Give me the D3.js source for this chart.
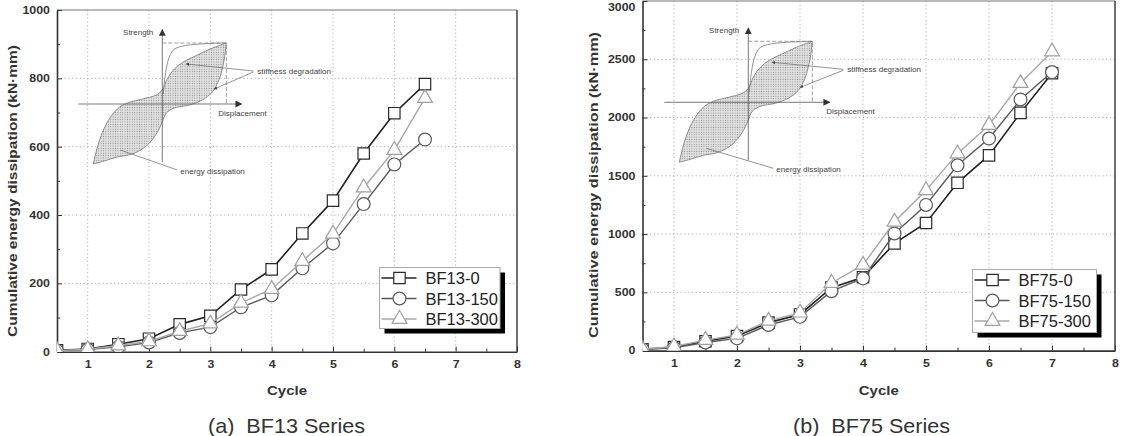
<!DOCTYPE html>
<html><head><meta charset="utf-8">
<script src="https://cdn.jsdelivr.net/npm/d3@7"></script>
<style>body{margin:0;background:#fff;} svg{display:block;} text{font-family:"Liberation Sans",Arial,sans-serif;}</style>
</head><body>
<svg id="c" width="1131" height="436"></svg>
<script>
// ---------------- data ----------------
const cycles13 = [0.5,1,1.5,2,2.5,3,3.5,4,4.5,5,5.5,6,6.5];
const bf13_0   = [4,8,22,38,80,105,182,241,346,442,580,698,783];
const bf13_150 = [3,6,14,27,55,72,130,165,244,317,432,548,621];
const bf13_300 = [3,7,18,30,60,82,143,183,265,345,480,590,742];
const cycles75 = [0.5,1,1.5,2,2.5,3,3.5,4,4.5,5,5.5,6,6.5,7];
const bf75_0   = [12,30,80,125,240,310,540,630,920,1095,1440,1675,2040,2380];
const bf75_150 = [10,25,70,105,220,290,510,620,1005,1250,1590,1820,2155,2390];
const bf75_300 = [12,35,90,135,255,325,580,735,1105,1375,1690,1935,2295,2565];
const xTickValues = [1,2,3,4,5,6,7,8];
const xMinorTicks = [1.5,2.5,3.5,4.5,5.5,6.5,7.5];
const yTicks13 = [0,200,400,600,800,1000];
const yMinor13 = [100,300,500,700,900];
const yTicks75 = [0,500,1000,1500,2000,2500,3000];
const yMinor75 = [250,750,1250,1750,2250,2750];
const names13 = ["BF13-0","BF13-150","BF13-300"];
const names75 = ["BF75-0","BF75-150","BF75-300"];
const captions = ["(a)  BF13 Series","(b)  BF75 Series"];
const xTitle = "Cycle";
const yTitle = "Cumulative energy dissipation (kN\u00B7mm)";
const insetTexts = ["Strength","Displacement","stiffness degradation","energy dissipation"];

// ---------------- styles ----------------
const seriesStyle = [
  {line:"#222", stroke:"#2a2a2a", w:1.6, sym:d3.symbolSquare, size:130},
  {line:"#5a5a5a", stroke:"#5a5a5a", w:1.4, sym:d3.symbolCircle, size:130},
  {line:"#a8a8a8", stroke:"#a0a0a0", w:1.4, sym:d3.symbolTriangle, size:95}
];

const svg = d3.select("#c");
const defs = svg.append("defs");
const pat = defs.append("pattern").attr("id","dots").attr("width",2.4).attr("height",2.4).attr("patternUnits","userSpaceOnUse");
pat.append("rect").attr("width",2.4).attr("height",2.4).attr("fill","#e2e2e2");
pat.append("circle").attr("cx",1.2).attr("cy",1.2).attr("r",0.6).attr("fill","#8c8c8c");
defs.append("marker").attr("id","arr").attr("viewBox","0 0 6 6").attr("refX",5).attr("refY",3)
  .attr("markerWidth",5).attr("markerHeight",5).attr("orient","auto")
  .append("path").attr("d","M0,0L6,3L0,6Z").attr("fill","#444");
defs.append("marker").attr("id","arrBig").attr("viewBox","0 0 6 6").attr("refX",5).attr("refY",3)
  .attr("markerWidth",7).attr("markerHeight",7).attr("markerUnits","userSpaceOnUse").attr("orient","auto")
  .append("path").attr("d","M0,0L6,3L0,6Z").attr("fill","#333");

// inset loop shape (local coordinates relative to the inset origin)
const loopUpper = [[-69,60],[-64,40],[-56,20],[-45,5],[-35,-1],[-20,-5],[-6,-9],[0,-14],[5,-25],[12,-35],[21,-42],[33,-48],[48,-55],[64,-61]];
const loopLower = [[64,-61],[62,-45],[57,-25],[50,-12],[40,-4],[27,1],[12,4],[4,9],[0,18],[-6,30],[-16,42],[-30,50],[-45,53],[-58,57],[-69,60]];
const envelope = [[1,-10],[2.7,-27],[6,-44],[11,-54],[19.4,-57.7],[38,-60],[64,-61]];

function drawInset(g, c) {
  const ig = g.append("g").attr("transform",`translate(${c.ox},${c.oy})`);
  const ln = d3.line().curve(d3.curveCatmullRom);
  const d = ln(loopUpper) + ln(loopLower).replace(/^M/,"L") + "Z";
  ig.append("path").attr("d",d).attr("fill","url(#dots)").attr("stroke","#777").attr("stroke-width",0.8);
  ig.append("path").attr("d",ln(envelope)).attr("fill","none").attr("stroke","#777").attr("stroke-width",0.8);
  ig.append("line").attr("x1",0).attr("y1",58).attr("x2",0).attr("y2",-74).attr("stroke","#555").attr("stroke-width",0.8).attr("marker-end","url(#arrBig)");
  ig.append("line").attr("x1",-84).attr("y1",0).attr("x2",c.hx).attr("y2",0).attr("stroke","#555").attr("stroke-width",0.8).attr("marker-end","url(#arrBig)");
  ig.append("path").attr("d","M0,-61L64,-61L64,0").attr("fill","none").attr("stroke","#777").attr("stroke-width",0.7).attr("stroke-dasharray","4,2");
  ig.append("line").attr("x1",c.stiffDx-4).attr("y1",-33).attr("x2",24).attr("y2",-40).attr("stroke","#666").attr("stroke-width",0.7).attr("marker-end","url(#arr)");
  ig.append("line").attr("x1",c.stiffDx-4).attr("y1",-32).attr("x2",52).attr("y2",-15).attr("stroke","#666").attr("stroke-width",0.7).attr("marker-end","url(#arr)");
  ig.append("line").attr("x1",-42).attr("y1",46).attr("x2",c.energyDx-3).attr("y2",66).attr("stroke","#666").attr("stroke-width",0.7);
  const tf = t => ig.append("text").attr("font-family","'Liberation Serif',serif").attr("font-size",8).attr("fill","#444").text(t);
  tf(insetTexts[0]).attr("x",-9).attr("y",-69).attr("text-anchor","end");
  tf(insetTexts[1]).attr("x",c.dispDx).attr("y",12);
  tf(insetTexts[2]).attr("x",c.stiffDx).attr("y",-30);
  tf(insetTexts[3]).attr("x",c.energyDx).attr("y",70);
}

function drawChart(cfg, idx) {
  const x = d3.scaleLinear().domain([0.5,8]).range([cfg.L, cfg.R]);
  const y = d3.scaleLinear().domain([0, cfg.yTicks[cfg.yTicks.length-1]]).range([cfg.B, cfg.T]);
  const g = svg.append("g");
  const cid = "clip"+idx;
  defs.append("clipPath").attr("id",cid).append("rect")
    .attr("x",cfg.L).attr("y",cfg.T-10).attr("width",cfg.R-cfg.L).attr("height",cfg.B-cfg.T+10);

  g.append("g").selectAll("line").data(xTickValues.filter(d=>d<8)).join("line")
    .attr("x1",d=>x(d)).attr("x2",d=>x(d)).attr("y1",cfg.T).attr("y2",cfg.B)
    .attr("stroke","#9c9c9c").attr("stroke-width",0.8).attr("stroke-dasharray","1.2,2.6");
  g.append("g").selectAll("line").data(cfg.yTicks.filter((d,i)=>i>0 && i<cfg.yTicks.length-1)).join("line")
    .attr("x1",cfg.L).attr("x2",cfg.R).attr("y1",d=>y(d)).attr("y2",d=>y(d))
    .attr("stroke","#9c9c9c").attr("stroke-width",0.8).attr("stroke-dasharray","1.2,2.6");

  drawInset(g, cfg.inset);

  g.append("line").attr("x1",cfg.L).attr("x2",cfg.R).attr("y1",cfg.T).attr("y2",cfg.T).attr("stroke","#777").attr("stroke-width",1.2);
  g.append("line").attr("x1",cfg.R).attr("x2",cfg.R).attr("y1",cfg.T).attr("y2",cfg.B).attr("stroke","#333").attr("stroke-width",1.4);

  const ax = g.append("g").attr("transform",`translate(0,${cfg.B})`)
    .call(d3.axisBottom(x).tickValues(xTickValues).tickFormat(d3.format("d")).tickSize(-5).tickSizeOuter(0).tickPadding(9));
  g.append("g").attr("transform",`translate(0,${cfg.B})`)
    .call(d3.axisBottom(x).tickValues(xMinorTicks).tickSize(-3).tickFormat(""))
    .call(s=>s.select(".domain").remove());
  const ay = g.append("g").attr("transform",`translate(${cfg.L},0)`)
    .call(d3.axisLeft(y).tickValues(cfg.yTicks).tickFormat(d3.format("d")).tickSize(-5).tickSizeOuter(0).tickPadding(6));
  g.append("g").attr("transform",`translate(${cfg.L},0)`)
    .call(d3.axisLeft(y).tickValues(cfg.yMinor).tickSize(-3).tickFormat(""))
    .call(s=>s.select(".domain").remove());
  g.selectAll(".domain").attr("stroke","#333").attr("stroke-width",1.6);
  g.selectAll(".tick line").attr("stroke","#333").attr("stroke-width",1);
  [ax, ay].forEach(a => a.selectAll("text")
    .attr("font-family","'Liberation Sans',Arial,sans-serif").attr("font-size",10.5).attr("font-weight","bold")
    .attr("fill","#333").attr("transform","scale(1.18,1)"));
  ay.selectAll(".tick text").filter(d => y(d) < 6).attr("dy", "0.9em");

  g.append("text").attr("transform",`translate(${(cfg.L+cfg.R)/2},395) scale(1.15,1)`).attr("text-anchor","middle")
    .attr("font-size",13).attr("font-weight","bold").attr("fill","#333").text(xTitle);
  g.append("text").attr("transform",`translate(${cfg.ylx},${cfg.yly}) rotate(-90)`).attr("text-anchor","middle")
    .attr("font-size",13).attr("font-weight","bold").attr("fill","#333")
    .attr("textLength",cfg.ylen).attr("lengthAdjust","spacingAndGlyphs").text(yTitle);
  g.append("text").attr("transform",`translate(${cfg.capX},433) scale(1.08,1)`).attr("font-size",20).attr("fill","#333")
    .style("white-space","pre").text(captions[idx]);

  const pg = g.append("g").attr("clip-path",`url(#${cid})`);
  cfg.series.forEach((vals,i) => {
    const st = seriesStyle[i];
    const pts = cfg.cycles.map((c,j)=>[x(c), y(vals[j])]);
    pg.append("path").attr("d",d3.line()(pts)).attr("fill","none").attr("stroke",st.line).attr("stroke-width",st.w);
    pg.append("g").selectAll("path").data(pts).join("path")
      .attr("transform",d=>`translate(${d[0]},${d[1]})`)
      .attr("d",d3.symbol().type(st.sym).size(st.size)())
      .attr("fill","#fff").attr("stroke",st.stroke).attr("stroke-width",1.2);
  });

  const lb = cfg.legend;
  const lg = g.append("g").attr("transform",`translate(${lb.x},${lb.y})`);
  lg.append("rect").attr("x",5).attr("y",5).attr("width",lb.w).attr("height",lb.h).attr("fill","#000");
  lg.append("rect").attr("width",lb.w).attr("height",lb.h).attr("fill","#fff").attr("stroke","#aaa").attr("stroke-width",1);
  cfg.names.forEach((n,i) => {
    const st = seriesStyle[i];
    const yy = 10.5 + i*20.5;
    lg.append("line").attr("x1",2).attr("x2",37).attr("y1",yy).attr("y2",yy).attr("stroke",st.line).attr("stroke-width",st.w);
    lg.append("path").attr("transform",`translate(20,${yy})`).attr("d",d3.symbol().type(st.sym).size(st.size)())
      .attr("fill","#fff").attr("stroke",st.stroke).attr("stroke-width",1.2);
    lg.append("text").attr("x",46).attr("y",yy+6).attr("font-size",16.5).attr("fill","#222").text(n);
  });
}

drawChart({L:57, R:517, T:10, B:351.7, yTicks:yTicks13, yMinor:yMinor13, cycles:cycles13,
  series:[bf13_0,bf13_150,bf13_300], names:names13,
  legend:{x:379.5, y:267.5, w:120.5, h:61},
  inset:{ox:162.3, oy:104, hx:79, dispDx:56, stiffDx:95, energyDx:18},
  ylx:17, yly:191, ylen:292, capX:208}, 0);
drawChart({L:642.5, R:1115, T:1, B:350.6, yTicks:yTicks75, yMinor:yMinor75, cycles:cycles75,
  series:[bf75_0,bf75_150,bf75_300], names:names75,
  legend:{x:972.5, y:269.5, w:124, h:63},
  inset:{ox:748.3, oy:102.3, hx:81, dispDx:78, stiffDx:99, energyDx:28},
  ylx:598, yly:185, ylen:306, capX:793}, 1);
</script>
</body></html>
